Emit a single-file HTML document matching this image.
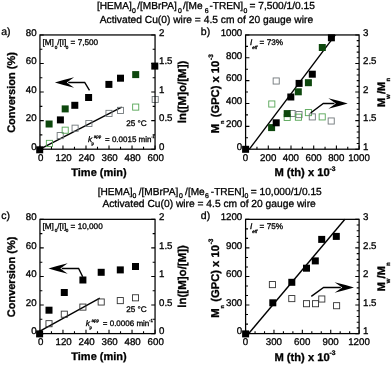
<!DOCTYPE html>
<html lang="en"><head><meta charset="utf-8"><title>Figure</title>
<style>
html,body{margin:0;padding:0;background:#fff;}
body{width:392px;height:365px;overflow:hidden;}
svg{display:block;font-family:"Liberation Sans", Arial, sans-serif;fill:#000;text-rendering:geometricPrecision;filter:blur(0.35px);}
text{stroke:#000;stroke-width:0.3px;}
</style></head><body>
<svg width="392" height="365" viewBox="0 0 392 365">
<rect width="392" height="365" fill="#fff"/>
<text x="97.0" y="9" font-size="10.1" text-anchor="start" font-weight="normal" >[HEMA]</text>
<text x="131.9" y="12.5" font-size="6.9" text-anchor="start" font-weight="normal" >0</text>
<text x="137.2" y="9" font-size="10.1" text-anchor="start" font-weight="normal" >/[MBrPA]</text>
<text x="178.1" y="12.5" font-size="6.9" text-anchor="start" font-weight="normal" >0</text>
<text x="182.9" y="9" font-size="10.1" text-anchor="start" font-weight="normal" >/[Me</text>
<text x="204.7" y="12.5" font-size="6.9" text-anchor="start" font-weight="normal" >6</text>
<text x="209.5" y="9" font-size="10.1" text-anchor="start" font-weight="normal" >-TREN]</text>
<text x="243.4" y="12.5" font-size="6.9" text-anchor="start" font-weight="normal" >0</text>
<text x="249.5" y="9" font-size="10.2" text-anchor="start" font-weight="normal" >= 7,500/1/0.15</text>
<text x="206.4" y="22.6" font-size="10.25" text-anchor="middle" font-weight="normal" >Activated Cu(0) wire = 4.5 cm of 20 gauge wire</text>
<text x="97.7" y="194.8" font-size="10.1" text-anchor="start" font-weight="normal" >[HEMA]</text>
<text x="132.6" y="198.3" font-size="6.9" text-anchor="start" font-weight="normal" >0</text>
<text x="138.7" y="194.8" font-size="10.1" text-anchor="start" font-weight="normal" >/[MBrPA]</text>
<text x="179.1" y="198.3" font-size="6.9" text-anchor="start" font-weight="normal" >0</text>
<text x="185.1" y="194.8" font-size="10.1" text-anchor="start" font-weight="normal" >/[Me</text>
<text x="204.9" y="198.3" font-size="6.9" text-anchor="start" font-weight="normal" >6</text>
<text x="210.8" y="194.8" font-size="10.1" text-anchor="start" font-weight="normal" >-TREN]</text>
<text x="244.5" y="198.3" font-size="6.9" text-anchor="start" font-weight="normal" >0</text>
<text x="250.7" y="194.8" font-size="10.2" text-anchor="start" font-weight="normal" >= 10,000/1/0.15</text>
<text x="209.1" y="207.3" font-size="10.25" text-anchor="middle" font-weight="normal" >Activated Cu(0) wire = 4.5 cm of 20 gauge wire</text>
<line x1="39.95" y1="149.20" x2="121.7" y2="107.10" stroke="#000" stroke-width="1.4"/>
<rect x="36.20" y="146.30" width="7.0" height="7.0" fill="#000"/>
<rect x="46.35" y="140.35" width="6.1" height="6.1" fill="none" stroke="#55a555" stroke-width="0.9"/>
<rect x="57.15" y="132.55" width="6.1" height="6.1" fill="none" stroke="#70777a" stroke-width="0.9"/>
<rect x="62.15" y="127.15" width="6.1" height="6.1" fill="none" stroke="#55a555" stroke-width="0.9"/>
<rect x="72.05" y="125.15" width="6.1" height="6.1" fill="none" stroke="#70777a" stroke-width="0.9"/>
<rect x="85.85" y="120.45" width="6.1" height="6.1" fill="none" stroke="#70777a" stroke-width="0.9"/>
<rect x="105.95" y="110.35" width="6.1" height="6.1" fill="none" stroke="#70777a" stroke-width="0.9"/>
<rect x="117.45" y="107.35" width="6.1" height="6.1" fill="none" stroke="#70777a" stroke-width="0.9"/>
<rect x="132.65" y="104.05" width="6.1" height="6.1" fill="none" stroke="#55a555" stroke-width="0.9"/>
<rect x="152.15" y="96.45" width="6.1" height="6.1" fill="none" stroke="#70777a" stroke-width="0.9"/>
<rect x="45.60" y="120.50" width="7.0" height="7.0" fill="#0d470d"/>
<rect x="56.90" y="116.40" width="7.0" height="7.0" fill="#000"/>
<rect x="61.70" y="105.40" width="7.0" height="7.0" fill="#0d470d"/>
<rect x="71.30" y="101.80" width="7.0" height="7.0" fill="#000"/>
<rect x="85.10" y="94.00" width="7.0" height="7.0" fill="#000"/>
<rect x="105.40" y="80.90" width="7.0" height="7.0" fill="#000"/>
<rect x="117.00" y="74.70" width="7.0" height="7.0" fill="#000"/>
<rect x="132.20" y="71.10" width="7.0" height="7.0" fill="#0d470d"/>
<rect x="151.30" y="62.60" width="7.0" height="7.0" fill="#000"/>
<rect x="39.95" y="34.95" width="115.10" height="114.25" fill="none" stroke="#000" stroke-width="1.25"/>
<path d="M39.95,149.2V145.40M62.97,149.2V145.40M85.99,149.2V145.40M109.01,149.2V145.40M132.03,149.2V145.40M155.05,149.2V145.40M51.46,149.2V146.80M74.48,149.2V146.80M97.50,149.2V146.80M120.52,149.2V146.80M143.54,149.2V146.80M39.95,34.95H43.75M39.95,63.51H43.75M39.95,92.07H43.75M39.95,120.64H43.75M39.95,149.20H43.75M39.95,49.23H42.35M39.95,77.79H42.35M39.95,106.36H42.35M39.95,134.92H42.35M155.05,34.95H151.25M155.05,63.51H151.25M155.05,92.07H151.25M155.05,120.64H151.25M155.05,149.20H151.25M155.05,49.23H152.65M155.05,77.79H152.65M155.05,106.36H152.65M155.05,134.92H152.65" fill="none" stroke="#000" stroke-width="1.1"/>
<text x="40.6" y="160.7" font-size="9.7" text-anchor="middle" font-weight="normal" >0</text>
<text x="63.6" y="160.7" font-size="9.7" text-anchor="middle" font-weight="normal" >120</text>
<text x="86.6" y="160.7" font-size="9.7" text-anchor="middle" font-weight="normal" >240</text>
<text x="109.6" y="160.7" font-size="9.7" text-anchor="middle" font-weight="normal" >360</text>
<text x="132.6" y="160.7" font-size="9.7" text-anchor="middle" font-weight="normal" >480</text>
<text x="155.7" y="160.7" font-size="9.7" text-anchor="middle" font-weight="normal" >600</text>
<text x="36.6" y="35.7" font-size="9.7" text-anchor="end" font-weight="normal" >80</text>
<text x="36.6" y="64.2" font-size="9.7" text-anchor="end" font-weight="normal" >60</text>
<text x="36.6" y="92.8" font-size="9.7" text-anchor="end" font-weight="normal" >40</text>
<text x="36.6" y="121.3" font-size="9.7" text-anchor="end" font-weight="normal" >20</text>
<text x="36.6" y="149.9" font-size="9.7" text-anchor="end" font-weight="normal" >0</text>
<text x="159.0" y="35.7" font-size="9.7" text-anchor="start" font-weight="normal" >2</text>
<text x="159.0" y="64.2" font-size="9.7" text-anchor="start" font-weight="normal" >1.5</text>
<text x="159.0" y="92.8" font-size="9.7" text-anchor="start" font-weight="normal" >1</text>
<text x="159.0" y="121.3" font-size="9.7" text-anchor="start" font-weight="normal" >0.5</text>
<text x="159.0" y="149.9" font-size="9.7" text-anchor="start" font-weight="normal" >0</text>
<text x="1.2" y="34.8" font-size="10.5" text-anchor="start" font-weight="normal" >a)</text>
<text transform="translate(14.6,92.5) rotate(-90)" font-size="11" text-anchor="middle" font-weight="bold">Conversion (%)</text>
<text transform="translate(186.3,92) rotate(-90)" font-size="11.5" text-anchor="middle" font-weight="bold">ln([M]o/[M])</text>
<text x="99" y="176" font-size="11.0" text-anchor="middle" font-weight="bold" >Time (min)</text>
<text x="42.5" y="45.3" font-size="8.2" text-anchor="start" font-weight="normal" >[M]</text>
<text x="54.7" y="48.5" font-size="4.6" text-anchor="start" font-weight="normal" >0</text>
<text x="57.2" y="45.3" font-size="8.2" text-anchor="start" font-weight="normal" >/[I]</text>
<text x="65.7" y="48.5" font-size="4.6" text-anchor="start" font-weight="normal" >0</text>
<text x="70.6" y="45.3" font-size="8.2" text-anchor="start" font-weight="normal" >= 7,500</text>
<text x="126.2" y="125.6" font-size="8.2" text-anchor="start" font-weight="normal" >25 °C</text>
<text x="88.0" y="141.6" font-size="8.2" text-anchor="start" font-weight="normal" font-style="italic">k</text>
<text x="91.6" y="145.0" font-size="4.5" text-anchor="start" font-weight="normal" >p</text>
<text x="93.8" y="138.0" font-size="4.5" text-anchor="start" font-weight="normal" >app</text>
<text x="105.0" y="141.6" font-size="8" text-anchor="start" font-weight="normal" >= 0.0015 min</text>
<text x="151.3" y="137.6" font-size="3.5" text-anchor="start" font-weight="normal" >-1</text>
<path d="M54.9,82.45 Q64.5,79.48 74.1,77.15 L66.7,82.45 L74.1,87.75 Q64.5,85.42 54.9,82.45 Z" fill="#000"/>
<polyline points="68.2,82.45 84.7,82.45 89.5,90.4" fill="none" stroke="#000" stroke-width="1.4" stroke-linejoin="miter"/>
<line x1="39.95" y1="331.20" x2="99.8" y2="298.20" stroke="#000" stroke-width="1.4"/>
<rect x="36.10" y="330.40" width="7.0" height="7.0" fill="#000"/>
<rect x="45.95" y="320.65" width="6.1" height="6.1" fill="none" stroke="#333" stroke-width="0.9"/>
<rect x="61.25" y="311.15" width="6.1" height="6.1" fill="none" stroke="#333" stroke-width="0.9"/>
<rect x="79.85" y="304.05" width="6.1" height="6.1" fill="none" stroke="#333" stroke-width="0.9"/>
<rect x="98.15" y="298.95" width="6.1" height="6.1" fill="none" stroke="#333" stroke-width="0.9"/>
<rect x="117.25" y="297.55" width="6.1" height="6.1" fill="none" stroke="#333" stroke-width="0.9"/>
<rect x="132.45" y="294.75" width="6.1" height="6.1" fill="none" stroke="#333" stroke-width="0.9"/>
<rect x="45.50" y="306.70" width="7.0" height="7.0" fill="#000"/>
<rect x="60.80" y="289.00" width="7.0" height="7.0" fill="#000"/>
<rect x="79.40" y="276.50" width="7.0" height="7.0" fill="#000"/>
<rect x="97.70" y="268.80" width="7.0" height="7.0" fill="#000"/>
<rect x="116.80" y="266.40" width="7.0" height="7.0" fill="#000"/>
<rect x="132.00" y="263.00" width="7.0" height="7.0" fill="#000"/>
<rect x="39.95" y="219.35000000000002" width="115.10" height="114.25" fill="none" stroke="#000" stroke-width="1.25"/>
<path d="M39.95,333.6V329.80M62.97,333.6V329.80M85.99,333.6V329.80M109.01,333.6V329.80M132.03,333.6V329.80M155.05,333.6V329.80M51.46,333.6V331.20M74.48,333.6V331.20M97.50,333.6V331.20M120.52,333.6V331.20M143.54,333.6V331.20M39.95,219.35H43.75M39.95,247.91H43.75M39.95,276.48H43.75M39.95,305.04H43.75M39.95,333.60H43.75M39.95,233.63H42.35M39.95,262.19H42.35M39.95,290.76H42.35M39.95,319.32H42.35M155.05,219.35H151.25M155.05,247.91H151.25M155.05,276.48H151.25M155.05,305.04H151.25M155.05,333.60H151.25M155.05,233.63H152.65M155.05,262.19H152.65M155.05,290.76H152.65M155.05,319.32H152.65" fill="none" stroke="#000" stroke-width="1.1"/>
<text x="40.6" y="345.1" font-size="9.7" text-anchor="middle" font-weight="normal" >0</text>
<text x="63.6" y="345.1" font-size="9.7" text-anchor="middle" font-weight="normal" >120</text>
<text x="86.6" y="345.1" font-size="9.7" text-anchor="middle" font-weight="normal" >240</text>
<text x="109.6" y="345.1" font-size="9.7" text-anchor="middle" font-weight="normal" >360</text>
<text x="132.6" y="345.1" font-size="9.7" text-anchor="middle" font-weight="normal" >480</text>
<text x="155.7" y="345.1" font-size="9.7" text-anchor="middle" font-weight="normal" >600</text>
<text x="36.6" y="220.1" font-size="9.7" text-anchor="end" font-weight="normal" >80</text>
<text x="36.6" y="248.6" font-size="9.7" text-anchor="end" font-weight="normal" >60</text>
<text x="36.6" y="277.2" font-size="9.7" text-anchor="end" font-weight="normal" >40</text>
<text x="36.6" y="305.7" font-size="9.7" text-anchor="end" font-weight="normal" >20</text>
<text x="36.6" y="334.3" font-size="9.7" text-anchor="end" font-weight="normal" >0</text>
<text x="159.0" y="220.1" font-size="9.7" text-anchor="start" font-weight="normal" >2</text>
<text x="159.0" y="248.6" font-size="9.7" text-anchor="start" font-weight="normal" >1.5</text>
<text x="159.0" y="277.2" font-size="9.7" text-anchor="start" font-weight="normal" >1</text>
<text x="159.0" y="305.7" font-size="9.7" text-anchor="start" font-weight="normal" >0.5</text>
<text x="159.0" y="334.3" font-size="9.7" text-anchor="start" font-weight="normal" >0</text>
<text x="1.2" y="219.2" font-size="10.5" text-anchor="start" font-weight="normal" >c)</text>
<text transform="translate(14.6,276.9) rotate(-90)" font-size="11" text-anchor="middle" font-weight="bold">Conversion (%)</text>
<text transform="translate(186.3,276.4) rotate(-90)" font-size="11.5" text-anchor="middle" font-weight="bold">ln([M]o/[M])</text>
<text x="99" y="360.4" font-size="11.0" text-anchor="middle" font-weight="bold" >Time (min)</text>
<text x="42.5" y="228.8" font-size="8.2" text-anchor="start" font-weight="normal" >[M]</text>
<text x="54.7" y="232.0" font-size="4.6" text-anchor="start" font-weight="normal" >0</text>
<text x="57.2" y="228.8" font-size="8.2" text-anchor="start" font-weight="normal" >/[I]</text>
<text x="65.7" y="232.0" font-size="4.6" text-anchor="start" font-weight="normal" >0</text>
<text x="70.6" y="228.8" font-size="8.2" text-anchor="start" font-weight="normal" >= 10,000</text>
<text x="126.2" y="311.7" font-size="8.2" text-anchor="start" font-weight="normal" >25 °C</text>
<text x="85.8" y="326.0" font-size="8.2" text-anchor="start" font-weight="normal" font-style="italic">k</text>
<text x="89.4" y="329.4" font-size="4.5" text-anchor="start" font-weight="normal" >p</text>
<text x="91.6" y="322.4" font-size="4.5" text-anchor="start" font-weight="normal" >app</text>
<text x="102.8" y="326.0" font-size="8" text-anchor="start" font-weight="normal" >= 0.0006 min</text>
<text x="149.1" y="322.0" font-size="4.5" text-anchor="start" font-weight="normal" >-1</text>
<path d="M48.5,268.45 Q58.1,265.48 67.7,263.15 L60.3,268.45 L67.7,273.75 Q58.1,271.42 48.5,268.45 Z" fill="#000"/>
<polyline points="61.8,268.45 78.6,268.45 82.7,276.7" fill="none" stroke="#000" stroke-width="1.4" stroke-linejoin="miter"/>
<line x1="249.4" y1="149.20" x2="335.3" y2="34.95" stroke="#000" stroke-width="1.4"/>
<rect x="242.10" y="145.80" width="7.0" height="7.0" fill="#000"/>
<rect x="268.75" y="100.95" width="6.1" height="6.1" fill="none" stroke="#55a555" stroke-width="0.9"/>
<rect x="273.15" y="77.95" width="6.1" height="6.1" fill="none" stroke="#70777a" stroke-width="0.9"/>
<rect x="284.15" y="114.35" width="6.1" height="6.1" fill="none" stroke="#55a555" stroke-width="0.9"/>
<rect x="289.05" y="110.45" width="6.1" height="6.1" fill="none" stroke="#70777a" stroke-width="0.9"/>
<rect x="295.95" y="111.55" width="6.1" height="6.1" fill="none" stroke="#70777a" stroke-width="0.9"/>
<rect x="295.35" y="114.15" width="6.1" height="6.1" fill="none" stroke="#55a555" stroke-width="0.9"/>
<rect x="305.35" y="109.55" width="6.1" height="6.1" fill="none" stroke="#55a555" stroke-width="0.9"/>
<rect x="309.25" y="113.85" width="6.1" height="6.1" fill="none" stroke="#70777a" stroke-width="0.9"/>
<rect x="319.15" y="113.85" width="6.1" height="6.1" fill="none" stroke="#55a555" stroke-width="0.9"/>
<rect x="328.15" y="117.95" width="6.1" height="6.1" fill="none" stroke="#70777a" stroke-width="0.9"/>
<rect x="268.10" y="124.10" width="7.0" height="7.0" fill="#0d470d"/>
<rect x="272.70" y="119.30" width="7.0" height="7.0" fill="#000"/>
<rect x="283.70" y="110.10" width="7.0" height="7.0" fill="#0d470d"/>
<rect x="287.30" y="93.50" width="7.0" height="7.0" fill="#000"/>
<rect x="294.80" y="88.30" width="7.0" height="7.0" fill="#0d470d"/>
<rect x="295.60" y="79.90" width="7.0" height="7.0" fill="#000"/>
<rect x="304.90" y="79.20" width="7.0" height="7.0" fill="#0d470d"/>
<rect x="308.80" y="70.70" width="7.0" height="7.0" fill="#000"/>
<rect x="318.80" y="44.00" width="7.0" height="7.0" fill="#0d470d"/>
<rect x="327.90" y="34.30" width="7.0" height="7.0" fill="#000"/>
<rect x="245.6" y="34.95" width="113.50" height="114.25" fill="none" stroke="#000" stroke-width="1.25"/>
<path d="M245.60,149.2V145.40M268.30,149.2V145.40M291.00,149.2V145.40M313.70,149.2V145.40M336.40,149.2V145.40M359.10,149.2V145.40M256.95,149.2V146.80M279.65,149.2V146.80M302.35,149.2V146.80M325.05,149.2V146.80M347.75,149.2V146.80M245.6,34.95H249.40M245.6,57.80H249.40M245.6,80.65H249.40M245.6,103.50H249.40M245.6,126.35H249.40M245.6,149.20H249.40M245.6,46.38H248.00M245.6,69.22H248.00M245.6,92.07H248.00M245.6,114.92H248.00M245.6,137.77H248.00M359.1,34.95H355.30M359.1,63.51H355.30M359.1,92.07H355.30M359.1,120.64H355.30M359.1,149.20H355.30M359.1,40.66H356.70M359.1,46.38H356.70M359.1,52.09H356.70M359.1,57.80H356.70M359.1,69.22H356.70M359.1,74.94H356.70M359.1,80.65H356.70M359.1,86.36H356.70M359.1,97.79H356.70M359.1,103.50H356.70M359.1,109.21H356.70M359.1,114.92H356.70M359.1,126.35H356.70M359.1,132.06H356.70M359.1,137.77H356.70M359.1,143.49H356.70" fill="none" stroke="#000" stroke-width="1.1"/>
<text x="245.5" y="160.7" font-size="9.7" text-anchor="middle" font-weight="normal" >0</text>
<text x="268.2" y="160.7" font-size="9.7" text-anchor="middle" font-weight="normal" >200</text>
<text x="290.9" y="160.7" font-size="9.7" text-anchor="middle" font-weight="normal" >400</text>
<text x="313.6" y="160.7" font-size="9.7" text-anchor="middle" font-weight="normal" >600</text>
<text x="336.3" y="160.7" font-size="9.7" text-anchor="middle" font-weight="normal" >800</text>
<text x="359.0" y="160.7" font-size="9.7" text-anchor="middle" font-weight="normal" >1000</text>
<text x="242.2" y="35.7" font-size="9.7" text-anchor="end" font-weight="normal" >1000</text>
<text x="242.2" y="58.5" font-size="9.7" text-anchor="end" font-weight="normal" >800</text>
<text x="242.2" y="81.4" font-size="9.7" text-anchor="end" font-weight="normal" >600</text>
<text x="242.2" y="104.2" font-size="9.7" text-anchor="end" font-weight="normal" >400</text>
<text x="242.2" y="127.0" font-size="9.7" text-anchor="end" font-weight="normal" >200</text>
<text x="242.2" y="149.9" font-size="9.7" text-anchor="end" font-weight="normal" >0</text>
<text x="363.0" y="35.7" font-size="9.7" text-anchor="start" font-weight="normal" >3</text>
<text x="363.0" y="64.2" font-size="9.7" text-anchor="start" font-weight="normal" >2.5</text>
<text x="363.0" y="92.8" font-size="9.7" text-anchor="start" font-weight="normal" >2</text>
<text x="363.0" y="121.3" font-size="9.7" text-anchor="start" font-weight="normal" >1.5</text>
<text x="363.0" y="149.9" font-size="9.7" text-anchor="start" font-weight="normal" >1</text>
<text x="200.8" y="34.6" font-size="10.5" text-anchor="start" font-weight="normal" >b)</text>
<text transform="translate(218.5,133.3) rotate(-90)" font-size="11.4" font-weight="bold">M</text>
<text transform="translate(223.9,124.0) rotate(-90)" font-size="5.6" font-weight="bold">n</text>
<text transform="translate(218.5,117.3) rotate(-90)" font-size="11.2" font-weight="bold">(GPC) x 10</text>
<text transform="translate(212.8,59.9) rotate(-90)" font-size="6.5" font-weight="bold">-3</text>
<text transform="translate(384.7,106.9) rotate(-90)" font-size="11" font-weight="bold">M</text>
<text transform="translate(390.2,98.9) rotate(-90)" font-size="6" font-weight="bold">w</text>
<text transform="translate(384.7,94.0) rotate(-90)" font-size="11" font-weight="bold">/M</text>
<text transform="translate(390.2,81.5) rotate(-90)" font-size="6" font-weight="bold">n</text>
<text x="274.4" y="176.3" font-size="11.2" text-anchor="start" font-weight="bold" >M (th) x 10</text>
<text x="329.6" y="171.0" font-size="6.7" text-anchor="start" font-weight="bold" >-3</text>
<text x="250" y="44.6" font-size="8.2" text-anchor="start" font-weight="normal" font-style="italic">I</text>
<text x="252.2" y="48.6" font-size="4.5" text-anchor="start" font-weight="normal" font-style="italic">eff</text>
<text x="259.6" y="44.6" font-size="8.2" text-anchor="start" font-weight="normal" >= 73%</text>
<path d="M347.7,103.45 Q338.0,100.54 328.4,98.25 L335.9,103.45 L328.4,108.65 Q338.0,106.36 347.7,103.45 Z" fill="#000"/>
<polyline points="334.4,103.45 323.3,103.45 310.6,113" fill="none" stroke="#000" stroke-width="1.4" stroke-linejoin="miter"/>
<line x1="248.5" y1="333.70" x2="344.9" y2="219.25" stroke="#000" stroke-width="1.4"/>
<rect x="242.10" y="330.40" width="7.0" height="7.0" fill="#000"/>
<rect x="269.35" y="281.55" width="6.1" height="6.1" fill="none" stroke="#333" stroke-width="0.9"/>
<rect x="288.75" y="295.55" width="6.1" height="6.1" fill="none" stroke="#333" stroke-width="0.9"/>
<rect x="303.45" y="300.65" width="6.1" height="6.1" fill="none" stroke="#333" stroke-width="0.9"/>
<rect x="312.45" y="300.65" width="6.1" height="6.1" fill="none" stroke="#333" stroke-width="0.9"/>
<rect x="318.75" y="295.95" width="6.1" height="6.1" fill="none" stroke="#333" stroke-width="0.9"/>
<rect x="333.55" y="302.65" width="6.1" height="6.1" fill="none" stroke="#333" stroke-width="0.9"/>
<rect x="269.30" y="299.30" width="7.0" height="7.0" fill="#000"/>
<rect x="288.30" y="278.80" width="7.0" height="7.0" fill="#000"/>
<rect x="303.00" y="264.70" width="7.0" height="7.0" fill="#000"/>
<rect x="311.80" y="257.40" width="7.0" height="7.0" fill="#000"/>
<rect x="318.20" y="235.90" width="7.0" height="7.0" fill="#000"/>
<rect x="332.80" y="232.90" width="7.0" height="7.0" fill="#000"/>
<rect x="245.6" y="219.35000000000002" width="113.50" height="114.25" fill="none" stroke="#000" stroke-width="1.25"/>
<path d="M245.60,333.6V329.80M273.98,333.6V329.80M302.35,333.6V329.80M330.73,333.6V329.80M359.10,333.6V329.80M255.06,333.6V331.20M264.52,333.6V331.20M283.43,333.6V331.20M292.89,333.6V331.20M311.81,333.6V331.20M321.27,333.6V331.20M340.18,333.6V331.20M349.64,333.6V331.20M245.6,219.35H249.40M245.6,247.91H249.40M245.6,276.48H249.40M245.6,305.04H249.40M245.6,333.60H249.40M245.6,228.87H248.00M245.6,238.39H248.00M245.6,257.43H248.00M245.6,266.95H248.00M245.6,286.00H248.00M245.6,295.52H248.00M245.6,314.56H248.00M245.6,324.08H248.00M359.1,219.35H355.30M359.1,247.91H355.30M359.1,276.48H355.30M359.1,305.04H355.30M359.1,333.60H355.30M359.1,225.06H356.70M359.1,230.78H356.70M359.1,236.49H356.70M359.1,242.20H356.70M359.1,253.63H356.70M359.1,259.34H356.70M359.1,265.05H356.70M359.1,270.76H356.70M359.1,282.19H356.70M359.1,287.90H356.70M359.1,293.61H356.70M359.1,299.33H356.70M359.1,310.75H356.70M359.1,316.46H356.70M359.1,322.18H356.70M359.1,327.89H356.70" fill="none" stroke="#000" stroke-width="1.1"/>
<text x="245.5" y="345.1" font-size="9.7" text-anchor="middle" font-weight="normal" >0</text>
<text x="273.9" y="345.1" font-size="9.7" text-anchor="middle" font-weight="normal" >300</text>
<text x="302.2" y="345.1" font-size="9.7" text-anchor="middle" font-weight="normal" >600</text>
<text x="330.6" y="345.1" font-size="9.7" text-anchor="middle" font-weight="normal" >900</text>
<text x="359.0" y="345.1" font-size="9.7" text-anchor="middle" font-weight="normal" >1200</text>
<text x="242.2" y="220.1" font-size="9.7" text-anchor="end" font-weight="normal" >1200</text>
<text x="242.2" y="248.6" font-size="9.7" text-anchor="end" font-weight="normal" >900</text>
<text x="242.2" y="277.2" font-size="9.7" text-anchor="end" font-weight="normal" >600</text>
<text x="242.2" y="305.7" font-size="9.7" text-anchor="end" font-weight="normal" >300</text>
<text x="242.2" y="334.3" font-size="9.7" text-anchor="end" font-weight="normal" >0</text>
<text x="363.0" y="220.1" font-size="9.7" text-anchor="start" font-weight="normal" >3</text>
<text x="363.0" y="248.6" font-size="9.7" text-anchor="start" font-weight="normal" >2.5</text>
<text x="363.0" y="277.2" font-size="9.7" text-anchor="start" font-weight="normal" >2</text>
<text x="363.0" y="305.7" font-size="9.7" text-anchor="start" font-weight="normal" >1.5</text>
<text x="363.0" y="334.3" font-size="9.7" text-anchor="start" font-weight="normal" >1</text>
<text x="200.8" y="219.0" font-size="10.5" text-anchor="start" font-weight="normal" >d)</text>
<text transform="translate(218.5,317.7) rotate(-90)" font-size="11.4" font-weight="bold">M</text>
<text transform="translate(223.9,308.4) rotate(-90)" font-size="5.6" font-weight="bold">n</text>
<text transform="translate(218.5,301.7) rotate(-90)" font-size="11.2" font-weight="bold">(GPC) x 10</text>
<text transform="translate(212.8,244.3) rotate(-90)" font-size="6.5" font-weight="bold">-3</text>
<text transform="translate(384.7,291.3) rotate(-90)" font-size="11" font-weight="bold">M</text>
<text transform="translate(390.2,283.3) rotate(-90)" font-size="6" font-weight="bold">w</text>
<text transform="translate(384.7,278.4) rotate(-90)" font-size="11" font-weight="bold">/M</text>
<text transform="translate(390.2,265.9) rotate(-90)" font-size="6" font-weight="bold">n</text>
<text x="274.4" y="360.7" font-size="11.2" text-anchor="start" font-weight="bold" >M (th) x 10</text>
<text x="329.6" y="355.4" font-size="6.7" text-anchor="start" font-weight="bold" >-3</text>
<text x="250" y="229.0" font-size="8.2" text-anchor="start" font-weight="normal" font-style="italic">I</text>
<text x="252.2" y="233.0" font-size="4.5" text-anchor="start" font-weight="normal" font-style="italic">eff</text>
<text x="259.6" y="229.0" font-size="8.2" text-anchor="start" font-weight="normal" >= 75%</text>
<path d="M354.0,287.45 Q344.3,284.54 334.6,282.25 L342.3,287.45 L334.6,292.65 Q344.3,290.36 354.0,287.45 Z" fill="#000"/>
<polyline points="340.8,287.45 323.6,287.45 311.3,296.4" fill="none" stroke="#000" stroke-width="1.4" stroke-linejoin="miter"/>
</svg></body></html>
